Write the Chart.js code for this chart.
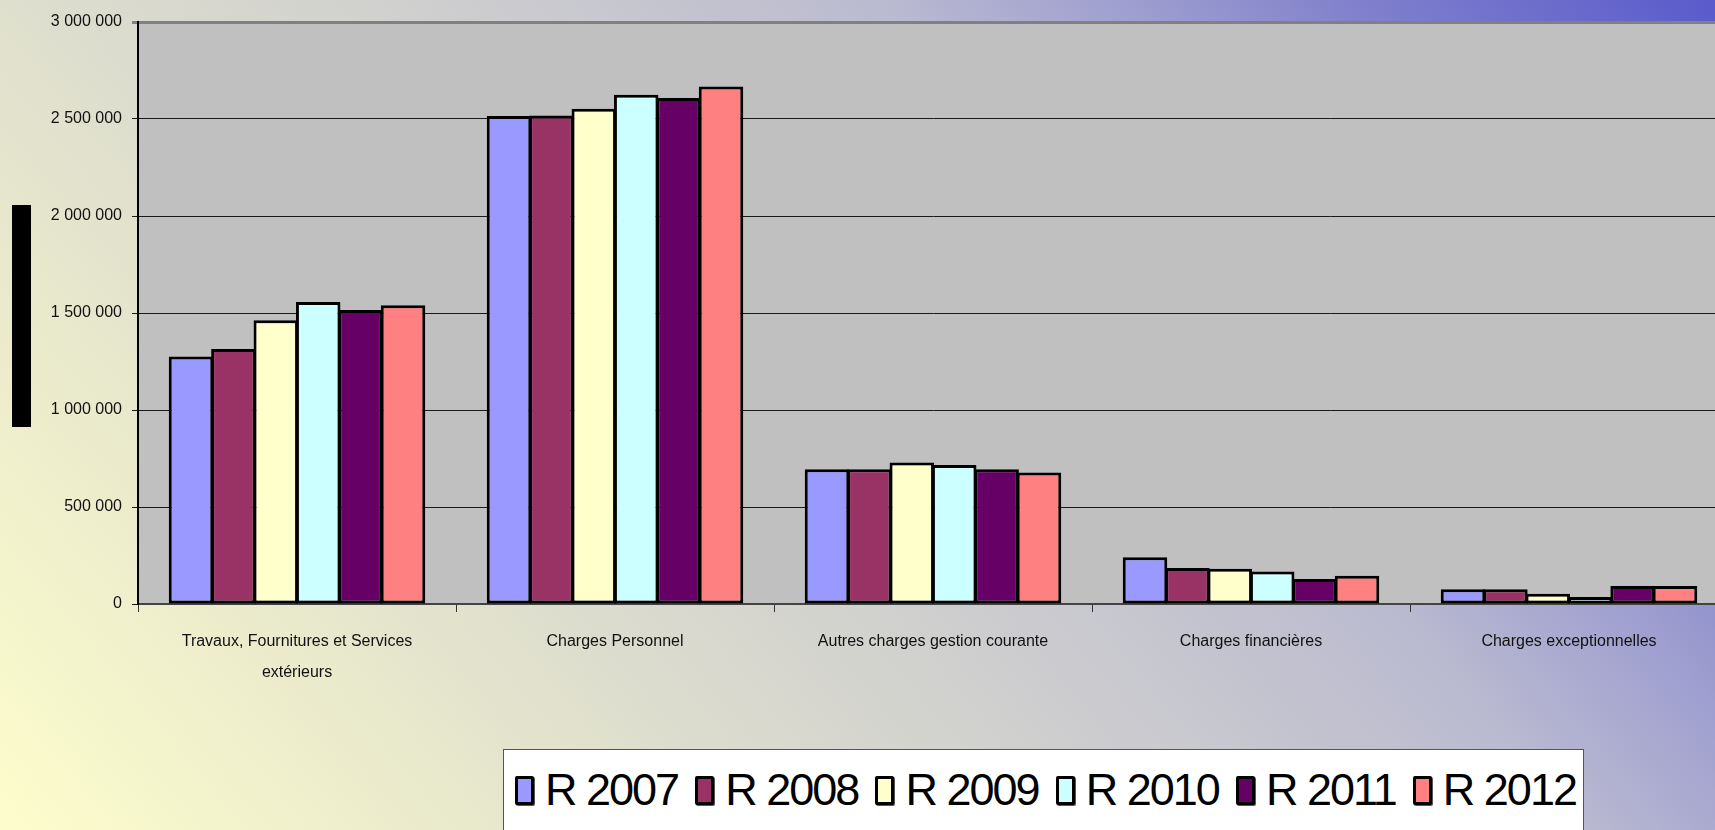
<!DOCTYPE html>
<html lang="fr">
<head>
<meta charset="utf-8">
<title>Charges de fonctionnement 2007 - 2012</title>
<script src="https://cdn.jsdelivr.net/npm/chart.js@4/dist/chart.umd.min.js"></script>
<style>
  html, body {
    margin: 0;
    padding: 0;
    width: 1715px;
    height: 830px;
    overflow: hidden;
  }
  body {
    position: relative;
    font-family: "Liberation Sans", Arial, sans-serif;
    background: linear-gradient(50deg,
      #fdfdcc 0%, #eeeecc 15%, #dedece 30%, #cbcbcf 50%,
      #bbbbd0 65%, #a0a0d0 75%, #8080cc 85%, #5a5acc 100%);
  }
  #wrap {
    position: absolute;
    left: 0;
    top: 0;
    width: 1728px;
    height: 830px;
  }
  /* black block left of the axis (axis title box in the original) */
  #sideBar {
    position: absolute;
    left: 12px;
    top: 205px;
    width: 19px;
    height: 222px;
    background: #000;
  }
  #legend {
    position: absolute;
    left: 503px;
    top: 749px;
    width: 1081px;
    height: 110px;
    box-sizing: border-box;
    background: #fff;
    border: 1px solid #555;
    padding: 15px 7px 0 11px;
    display: flex;
    justify-content: space-between;
    align-items: flex-start;
  }
  .item {
    display: flex;
    align-items: center;
    height: 50px;
  }
  .swatch {
    width: 19px;
    height: 29px;
    box-sizing: border-box;
    border: 3px solid #000;
    border-radius: 2px;
    margin-right: 11px;
    box-shadow: 1px 1px 0 #555;
  }
  .item span {
    font-size: 45px;
    letter-spacing: -2px;
    color: #000;
    white-space: nowrap;
  }
</style>
</head>
<body>
<div id="sideBar"></div>
<div id="wrap"><canvas id="chargesChart"></canvas></div>
<div id="legend"></div>

<script>
// Categories (x axis) and yearly amounts
const categories = [
  ["Travaux, Fournitures et Services", "extérieurs"],
  "Charges Personnel",
  "Autres charges gestion courante",
  "Charges financières",
  "Charges exceptionnelles"
];
const years = ["R 2007", "R 2008", "R 2009", "R 2010", "R 2011", "R 2012"];

const r2007 = [1276000, 2515000, 695000, 241000, 76000];
const r2008 = [1314000, 2518000, 695000, 186000, 76000];
const r2009 = [1463000, 2553000, 729000, 182000, 53000];
const r2010 = [1557000, 2625000, 716000, 167000, 36000];
const r2011 = [1516000, 2608000, 695000, 129000, 93000];
const r2012 = [1540000, 2667000, 678000, 146000, 93000];

const yTicks = [0, 500000, 1000000, 1500000, 2000000, 2500000, 3000000];

const colors = ["#9999ff", "#993366", "#ffffcc", "#ccffff", "#660066", "#ff8080"];
const series = [r2007, r2008, r2009, r2010, r2011, r2012];

// Helper to format numbers with a space as thousands separator
function formatAmount(value) {
  return String(value).replace(/\B(?=(\d{3})+(?!\d))/g, " ");
}

// Gray background only behind the plot area
const plotBackground = {
  id: "plotBackground",
  beforeDraw(chart) {
    const { ctx, chartArea } = chart;
    ctx.save();
    ctx.fillStyle = "#c0c0c0";
    ctx.fillRect(chartArea.left, chartArea.top,
      chartArea.right - chartArea.left, chartArea.bottom - chartArea.top);
    ctx.restore();
  }
};

const datasets = years.map((label, i) => ({
  label: label,
  data: series[i],
  backgroundColor: colors[i],
  borderColor: "#000",
  borderWidth: 3,
  borderSkipped: false,
  barPercentage: 1.05,
  categoryPercentage: 0.8
}));

const ctx = document.getElementById("chargesChart").getContext("2d");
new Chart(ctx, {
  type: "bar",
  data: { labels: categories, datasets: datasets },
  options: {
    responsive: true,
    maintainAspectRatio: false,
    animation: false,
    layout: { padding: { top: 22, right: 0, bottom: 0, left: 0 } },
    plugins: {
      legend: { display: false },
      tooltip: { enabled: false }
    },
    scales: {
      x: {
        offset: true,
        afterFit(scale) { scale.height = 226; },
        grid: {
          display: true,
          offset: true,
          drawOnChartArea: false,
          drawTicks: true,
          tickLength: 8,
          color: "#333"
        },
        border: { display: true, color: "#444", width: 2 },
        ticks: {
          color: "#111",
          padding: 14,
          maxRotation: 0,
          autoSkip: false,
          font: { family: "'Liberation Sans', Arial, sans-serif", size: 16, lineHeight: 1.96 }
        }
      },
      y: {
        min: 0,
        max: 3000000,
        afterFit(scale) { scale.width = 138; },
        afterBuildTicks(scale) {
          scale.ticks = yTicks.map(v => ({ value: v }));
        },
        grid: {
          drawTicks: true,
          tickLength: 6,
          color: (c) => (c.tick && c.tick.value === 3000000 ? "#808080" : "#1a1a1a"),
          lineWidth: (c) => (c.tick && c.tick.value === 3000000 ? 3 : 1)
        },
        border: { display: true, color: "#000", width: 2 },
        ticks: {
          color: "#111",
          padding: 10,
          font: { family: "'Liberation Sans', Arial, sans-serif", size: 16 },
          callback: (value) => formatAmount(value)
        }
      }
    }
  },
  plugins: [plotBackground]
});

// HTML legend built from the same series names and colours
const legendEl = document.getElementById("legend");
years.forEach((label, i) => {
  const item = document.createElement("div");
  item.className = "item";
  const swatch = document.createElement("div");
  swatch.className = "swatch";
  swatch.style.background = colors[i];
  const text = document.createElement("span");
  text.textContent = label;
  item.appendChild(swatch);
  item.appendChild(text);
  legendEl.appendChild(item);
});
</script>
</body>
</html>
